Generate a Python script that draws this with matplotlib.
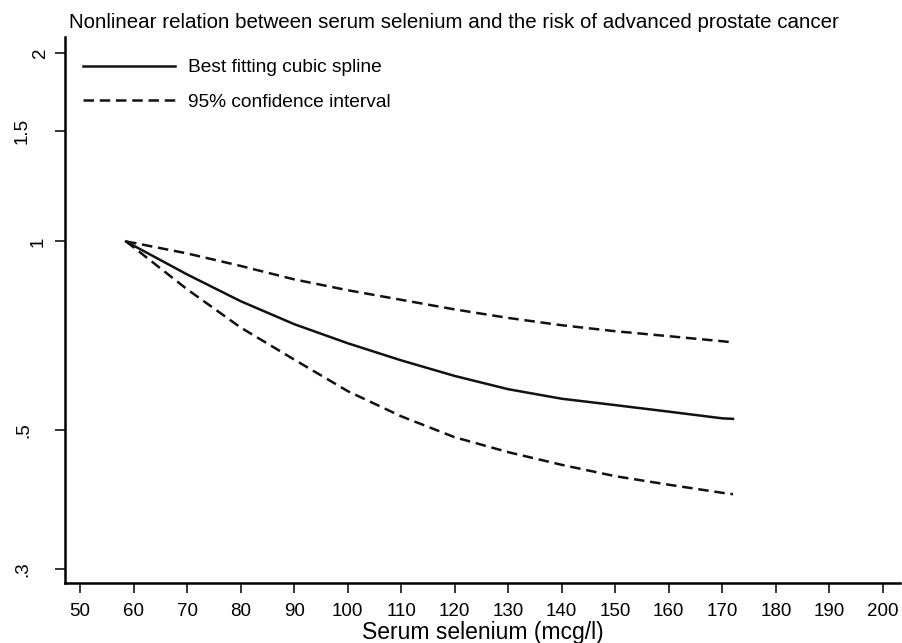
import numpy as np
import matplotlib
matplotlib.use('Agg')
import matplotlib.pyplot as plt
import matplotlib.transforms as mtransforms
from matplotlib import rcParams
from matplotlib.ticker import NullLocator

rcParams['font.family'] = ['Liberation Sans', 'DejaVu Sans']

# serum selenium (mcg/l)
selenium = [58.6, 60, 70, 80, 90, 100, 110, 120, 130, 140, 150, 160, 170, 172]
# relative risk, best fitting cubic spline
rr_fit = [1.0, 0.985, 0.886, 0.803, 0.738, 0.688, 0.646, 0.610, 0.581, 0.561, 0.548, 0.535, 0.522, 0.521]
# 95% confidence bounds
rr_upper = [1.0, 0.995, 0.957, 0.914, 0.870, 0.836, 0.807, 0.779, 0.755, 0.735, 0.719, 0.706, 0.693, 0.690]
rr_lower = [1.0, 0.979, 0.839, 0.729, 0.648, 0.577, 0.526, 0.487, 0.461, 0.440, 0.422, 0.409, 0.397, 0.395]

xticks = list(range(50, 201, 10))
yticks = [0.3, 0.5, 1, 1.5, 2]
ylabels = ['.3', '.5', '1', '1.5', '2']
# horizontal position of each y label (pixels from left edge)
ylabel_px = [23, 24, 38, 22, 41]

W, H = 902, 643
AX_L, AX_R, AX_T, AX_B = 65, 900, 37, 583
fig = plt.figure(figsize=(W / 100, H / 100), dpi=100)
ax = fig.add_axes([AX_L / W, 1 - AX_B / H, (AX_R - AX_L) / W, (AX_B - AX_T) / H])

dash = (0, (4.2, 2.3))
ax.plot(selenium, rr_fit, color='#111111', lw=1.8, label='Best fitting cubic spline')
ax.plot(selenium, rr_upper, color='#111111', lw=1.8, linestyle=dash,
        label='95% confidence interval')
ax.plot(selenium, rr_lower, color='#111111', lw=1.8, linestyle=dash)

ax.set_yscale('log')
ax.set_xlim(47.2, 203.2)
ax.set_ylim(0.285, 2.12)
ax.set_yticks(yticks)
ax.set_yticklabels([])
ax.yaxis.set_minor_locator(NullLocator())
ax.set_xticks(xticks)

for s in ['top', 'right']:
    ax.spines[s].set_visible(False)
for s in ['left', 'bottom']:
    ax.spines[s].set_linewidth(1.8)

ax.tick_params(axis='both', length=7.2, width=1.1, labelsize=13.5, color='black')
ax.tick_params(axis='x', pad=7.5)

trans = mtransforms.blended_transform_factory(ax.transAxes, ax.transData)
for v, lab, px in zip(yticks, ylabels, ylabel_px):
    ax.text((px - AX_L) / (AX_R - AX_L), v, lab, transform=trans, rotation=90,
            ha='center', va='center', fontsize=13.5)

ax.set_xlabel('Serum selenium (mcg/l)', fontsize=16.5, labelpad=0.5)

fig.text(69 / W, 1 - 22 / H, 'Nonlinear relation between serum selenium and the risk of advanced prostate cancer',
         fontsize=14.8, ha='left', va='center')

leg = ax.legend(loc='upper left', bbox_to_anchor=(83 / W, 1 - 59 / H), bbox_transform=fig.transFigure,
                frameon=False, fontsize=13.8, handlelength=4.79, handletextpad=0.7,
                borderpad=0, borderaxespad=0, labelspacing=0.9)

fig.savefig('out.png', dpi=100)
